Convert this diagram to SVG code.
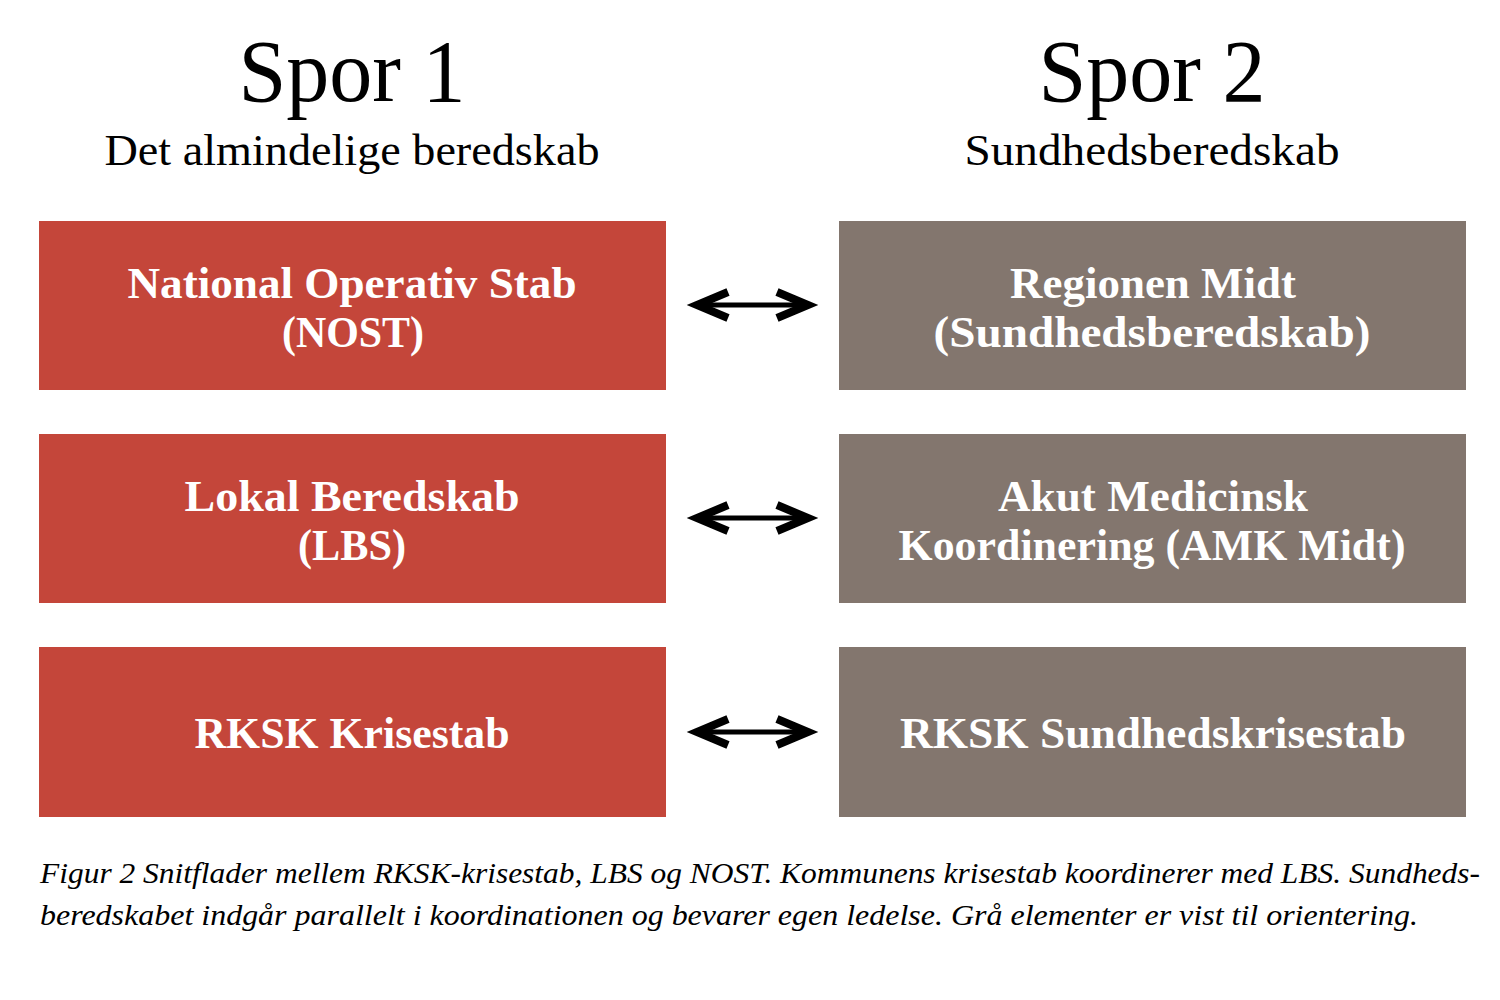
<svg xmlns="http://www.w3.org/2000/svg" width="1500" height="1000" viewBox="0 0 1500 1000">
<defs>
<style>
.bg{fill:#ffffff}
.red{fill:#C4463A}
.gray{fill:#83766E}
.title{font-family:"Liberation Serif","DejaVu Serif",serif;font-size:88px;fill:#000;text-anchor:middle}
.sub{font-family:"Liberation Serif","DejaVu Serif",serif;font-size:45px;fill:#000;text-anchor:middle}
.lbl{font-family:"Liberation Serif","DejaVu Serif",serif;font-size:44px;font-weight:bold;fill:#fff;text-anchor:middle}
.cap{font-family:"Liberation Serif","DejaVu Serif",serif;font-size:29px;font-style:italic;fill:#000}
.conn{stroke:#000;stroke-width:5;fill:none}
.head{stroke:#000;stroke-width:8;fill:none;stroke-linejoin:miter;stroke-linecap:butt}
</style>
</defs>
<rect class="bg" x="0" y="0" width="1500" height="1000"/>
<g id="headers">
<text class="title" x="352" y="101" textLength="227" lengthAdjust="spacingAndGlyphs">Spor 1</text>
<text class="sub" x="352" y="165" textLength="495" lengthAdjust="spacingAndGlyphs">Det almindelige beredskab</text>
<text class="title" x="1152" y="101" textLength="227" lengthAdjust="spacingAndGlyphs">Spor 2</text>
<text class="sub" x="1152" y="165" textLength="375" lengthAdjust="spacingAndGlyphs">Sundhedsberedskab</text>
</g>
<g id="nost">
<rect class="red" x="39" y="221" width="627" height="169"/>
<text class="lbl" x="352" y="298" textLength="449" lengthAdjust="spacingAndGlyphs">National Operativ Stab</text>
<text class="lbl" x="353" y="347" textLength="142" lengthAdjust="spacingAndGlyphs">(NOST)</text>
</g>
<g id="lbs">
<rect class="red" x="39" y="434" width="627" height="169"/>
<text class="lbl" x="352" y="511" textLength="335" lengthAdjust="spacingAndGlyphs">Lokal Beredskab</text>
<text class="lbl" x="352" y="560" textLength="108" lengthAdjust="spacingAndGlyphs">(LBS)</text>
</g>
<g id="rksk">
<rect class="red" x="39" y="647" width="627" height="170"/>
<text class="lbl" x="352" y="748" textLength="315" lengthAdjust="spacingAndGlyphs">RKSK Krisestab</text>
</g>
<g id="regionen">
<rect class="gray" x="839" y="221" width="627" height="169"/>
<text class="lbl" x="1153" y="298" textLength="286" lengthAdjust="spacingAndGlyphs">Regionen Midt</text>
<text class="lbl" x="1152" y="347" textLength="437" lengthAdjust="spacingAndGlyphs">(Sundhedsberedskab)</text>
</g>
<g id="amk">
<rect class="gray" x="839" y="434" width="627" height="169"/>
<text class="lbl" x="1153" y="511" textLength="310" lengthAdjust="spacingAndGlyphs">Akut Medicinsk</text>
<text class="lbl" x="1152" y="560" textLength="507" lengthAdjust="spacingAndGlyphs">Koordinering (AMK Midt)</text>
</g>
<g id="rksk-sund">
<rect class="gray" x="839" y="647" width="627" height="170"/>
<text class="lbl" x="1153" y="748" textLength="506" lengthAdjust="spacingAndGlyphs">RKSK Sundhedskrisestab</text>
</g>
<g id="connectors">
<line class="conn" x1="697" y1="305" x2="808" y2="305"/>
<polyline class="head" points="728,292 697,305 728,318"/>
<polyline class="head" points="777,292 808,305 777,318"/>
<line class="conn" x1="697" y1="518" x2="808" y2="518"/>
<polyline class="head" points="728,505 697,518 728,531"/>
<polyline class="head" points="777,505 808,518 777,531"/>
<line class="conn" x1="697" y1="732" x2="808" y2="732"/>
<polyline class="head" points="728,719 697,732 728,745"/>
<polyline class="head" points="777,719 808,732 777,745"/>
</g>
<g id="caption">
<text class="cap" x="40" y="883" textLength="1440" lengthAdjust="spacingAndGlyphs">Figur 2 Snitflader mellem RKSK-krisestab, LBS og NOST. Kommunens krisestab koordinerer med LBS. Sundheds-</text>
<text class="cap" x="40" y="925" textLength="1378" lengthAdjust="spacingAndGlyphs">beredskabet indgår parallelt i koordinationen og bevarer egen ledelse. Grå elementer er vist til orientering.</text>
</g>
</svg>
